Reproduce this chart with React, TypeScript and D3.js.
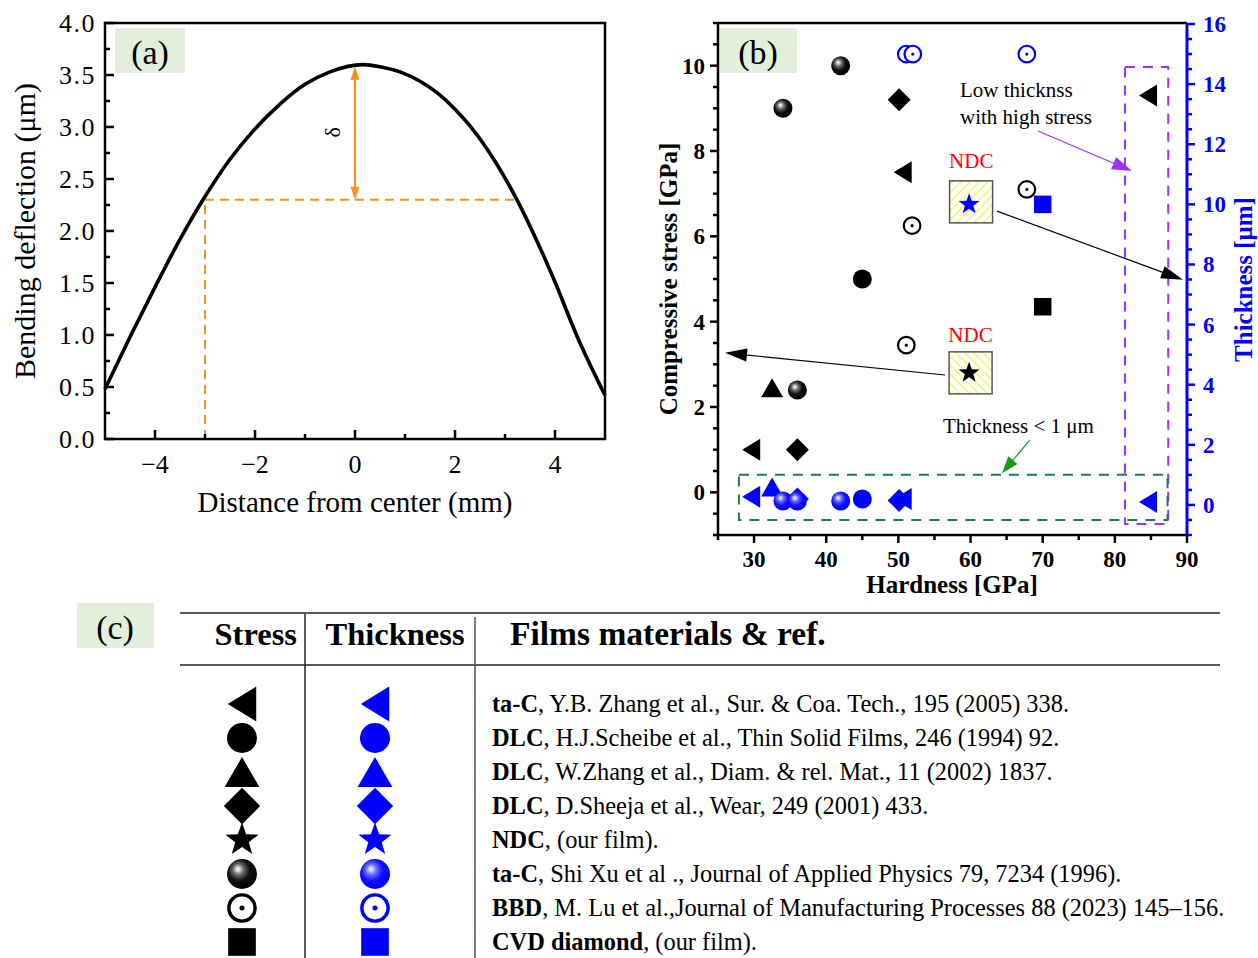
import React from 'react';
import * as d3 from 'd3';

const SERIF = "'Liberation Serif', 'Times New Roman', Times, serif";
const ORANGE = '#f7901e';
const BLUE = '#0000ff';
const LABEL_BG = '#e2efda';

type Pt = [number, number];

// ---------- (a) bending profile ----------
const profileDistance = [-5.0, -4.5, -4.0, -3.5, -3.04, -2.5, -2.04, -1.5, -1.0, -0.5, 0.16, 0.5, 0.9, 1.3, 1.64, 2.0, 2.3, 2.8, 3.24, 3.7, 4.0, 4.43, 5.0];
const profileDeflection = [0.48, 0.98, 1.46, 1.92, 2.3, 2.69, 2.96, 3.22, 3.41, 3.53, 3.6, 3.58, 3.53, 3.44, 3.33, 3.17, 3.01, 2.67, 2.3, 1.84, 1.51, 1.0, 0.42];
const distanceTicks = [-4, -2, 0, 2, 4];
const distanceMinor = [-3, -1, 1, 3];
const deflectionTicks = [0, 0.5, 1, 1.5, 2, 2.5, 3, 3.5, 4];
const chordLeft = -3.0;
const chordRight = 3.28;
const chordLevel = 2.3;
const apexLevel = 3.58;

// ---------- (b) stress / thickness vs hardness ----------
const hardnessTicks = [30, 40, 50, 60, 70, 80, 90];
const stressTicks = [0, 2, 4, 6, 8, 10];
const thicknessTicks = [0, 2, 4, 6, 8, 10, 12, 14, 16];

const tacZhangStress: Pt[] = [[29.6, 1.0], [50.6, 7.5], [84.6, 9.3]];
const tacZhangThickness: Pt[] = [[29.6, 0.27], [50.6, 0.2], [84.6, 0.1]];
const dlcScheibeStress: Pt[] = [[45.0, 5.0]];
const dlcScheibeThickness: Pt[] = [[45.0, 0.2]];
const dlcWZhangStress: Pt[] = [[32.5, 2.45]];
const dlcWZhangThickness: Pt[] = [[32.5, 0.6]];
const dlcSheejaStress: Pt[] = [[36.0, 1.0], [50.1, 9.2]];
const dlcSheejaThickness: Pt[] = [[36.0, 0.2], [50.1, 0.15]];
const ndcStress: Pt[] = [[59.8, 2.8]];
const ndcThickness: Pt[] = [[59.8, 10.0]];
const tacXuStress: Pt[] = [[34.0, 9.0], [42.0, 10.0], [36.0, 2.4]];
const tacXuThickness: Pt[] = [[34.0, 0.13], [42.0, 0.13], [36.0, 0.13]];
const bbdStress: Pt[] = [[51.9, 6.25], [51.1, 3.45], [67.8, 7.1]];
const bbdThickness: Pt[] = [[51.1, 15.0], [52.0, 15.0], [67.8, 15.0]];
const cvdStress: Pt[] = [[70.0, 4.35]];
const cvdThickness: Pt[] = [[70.0, 10.0]];

// ---------- (c) legend table ----------
const filmShapes = ['triLeft', 'circle', 'triUp', 'diamond', 'star', 'sphere', 'bullseye', 'square'];
const filmNames = ['ta-C', 'DLC', 'DLC', 'DLC', 'NDC', 'ta-C', 'BBD', 'CVD diamond'];
const filmRefs = [
  ', Y.B. Zhang et al., Sur. & Coa. Tech., 195 (2005) 338.',
  ', H.J.Scheibe et al., Thin Solid Films, 246 (1994) 92.',
  ', W.Zhang et al., Diam. & rel. Mat., 11 (2002) 1837.',
  ', D.Sheeja et al., Wear, 249 (2001) 433.',
  ', (our film).',
  ', Shi Xu et al ., Journal of Applied Physics 79, 7234 (1996).',
  ', M. Lu et al.,Journal of Manufacturing Processes 88 (2023) 145\u2013156.',
  ', (our film).',
];

// scales
const xA = d3.scaleLinear().domain([-5, 5]).range([105, 605]);
const yA = d3.scaleLinear().domain([0, 4]).range([439, 23]);
const xB = d3.scaleLinear().domain([25, 90]).range([718, 1187]);
const yS = d3.scaleLinear().domain([-1, 11]).range([535, 23]);
const yT = d3.scaleLinear().domain([-1, 16]).range([535, 24]);

function starPath(ro: number, ri: number) {
  const pts: string[] = [];
  for (let i = 0; i < 10; i++) {
    const r = i % 2 === 0 ? ro : ri;
    const a = -Math.PI / 2 + (i * Math.PI) / 5;
    pts.push(`${(r * Math.cos(a)).toFixed(2)},${(r * Math.sin(a)).toFixed(2)}`);
  }
  return 'M' + pts.join('L') + 'Z';
}

function Marker({ shape, x, y, color, k = 1 }: { shape: string; x: number; y: number; color: string; k?: number }) {
  const t = `translate(${x},${y}) scale(${k})`;
  const grad = color === BLUE ? 'url(#sphereBlue)' : 'url(#sphereBlack)';
  switch (shape) {
    case 'triLeft':
      return <path transform={t} d="M-9,0L9,-11L9,11Z" fill={color} />;
    case 'triUp':
      return <path transform={t} d="M0,-9.5L11,9.5L-11,9.5Z" fill={color} />;
    case 'circle':
      return <circle transform={t} r={9.5} fill={color} />;
    case 'diamond':
      return <path transform={t} d="M0,-11.5L11.5,0L0,11.5L-11.5,0Z" fill={color} />;
    case 'star':
      return <path transform={t} d={starPath(11, 4.5)} fill={color} />;
    case 'sphere':
      return <circle transform={t} r={9.5} fill={grad} />;
    case 'bullseye':
      return (
        <g transform={t}>
          <circle r={8.3} fill="#fff" stroke={color} strokeWidth={2.2} />
          <circle r={1.6} fill={color} />
        </g>
      );
    case 'square':
      return <rect transform={t} x={-8.75} y={-8.75} width={17.5} height={17.5} fill={color} />;
    default:
      return null;
  }
}

function arrowHead(x1: number, y1: number, x2: number, y2: number, len: number, half: number) {
  const a = Math.atan2(y2 - y1, x2 - x1);
  const bx = x2 - len * Math.cos(a);
  const by = y2 - len * Math.sin(a);
  const px = -Math.sin(a) * half;
  const py = Math.cos(a) * half;
  return `${x2},${y2} ${bx + px},${by + py} ${bx - px},${by - py}`;
}

function Arrow({ x1, y1, x2, y2, color, len = 20, half = 6, w = 1.2 }: any) {
  const a = Math.atan2(y2 - y1, x2 - x1);
  return (
    <g>
      <line x1={x1} y1={y1} x2={x2 - (len - 2) * Math.cos(a)} y2={y2 - (len - 2) * Math.sin(a)} stroke={color} strokeWidth={w} />
      <polygon points={arrowHead(x1, y1, x2, y2, len, half)} fill={color} />
    </g>
  );
}

export default function App() {
  const profile = d3
    .line<number>()
    .x((_, i) => xA(profileDistance[i]))
    .y((d) => yA(d))
    .curve(d3.curveMonotoneX)(profileDeflection) as string;

  const deflMinor = d3.range(0.25, 4, 0.5);
  const stressMinor = d3.range(-1, 11.01, 0.5).filter((v) => Math.abs(v % 2) > 1e-6);
  const thickMinor = d3.range(-1, 16.01, 0.5).filter((v) => Math.abs(v % 2) > 1e-6);
  const hardMinor = [25, 35, 45, 55, 65, 75, 85];

  const stressSets: [string, Pt[]][] = [
    ['triLeft', tacZhangStress],
    ['circle', dlcScheibeStress],
    ['triUp', dlcWZhangStress],
    ['diamond', dlcSheejaStress],
    ['sphere', tacXuStress],
    ['bullseye', bbdStress],
    ['square', cvdStress],
  ];
  const thickSets: [string, Pt[]][] = [
    ['diamond', dlcSheejaThickness],
    ['triLeft', tacZhangThickness],
    ['circle', dlcScheibeThickness],
    ['triUp', dlcWZhangThickness],
    ['sphere', tacXuThickness],
    ['bullseye', bbdThickness],
    ['square', cvdThickness],
  ];

  const ndcBox = (cx: number, cy: number, hatch: string) => (
    <rect x={cx - 21.5} y={cy - 21} width={43} height={42} fill={`url(#${hatch})`} stroke="#555" strokeWidth={1.5} />
  );

  const rowY = (i: number) => 704 + i * 34;

  return (
    <svg width={1258} height={958} style={{ position: 'absolute', left: 0, top: 0, background: '#fff' }} fontFamily={SERIF}>
      <defs>
        <radialGradient id="sphereBlack" cx="0.42" cy="0.4" r="0.6" fx="0.36" fy="0.33">
          <stop offset="0" stopColor="#ffffff" />
          <stop offset="0.12" stopColor="#d0d0d0" />
          <stop offset="0.3" stopColor="#6a6a6a" />
          <stop offset="0.6" stopColor="#101010" />
          <stop offset="1" stopColor="#000" />
        </radialGradient>
        <radialGradient id="sphereBlue" cx="0.42" cy="0.4" r="0.6" fx="0.36" fy="0.33">
          <stop offset="0" stopColor="#ffffff" />
          <stop offset="0.12" stopColor="#c8c8ff" />
          <stop offset="0.3" stopColor="#6a6aff" />
          <stop offset="0.6" stopColor="#1010ff" />
          <stop offset="1" stopColor={BLUE} />
        </radialGradient>
        <pattern id="hatchFwd" patternUnits="userSpaceOnUse" width={9} height={9}>
          <rect width={9} height={9} fill="#fff" />
          <path d="M-2,2L2,-2M0,9L9,0M7,11L11,7" stroke="#f4f46a" strokeWidth={1.5} />
        </pattern>
        <pattern id="hatchBack" patternUnits="userSpaceOnUse" width={9} height={9}>
          <rect width={9} height={9} fill="#fff" />
          <path d="M-2,7L2,11M0,0L9,9M7,-2L11,2" stroke="#f4f46a" strokeWidth={1.5} />
        </pattern>
      </defs>

      {/* ================= (a) ================= */}
      <g>
        <rect x={115} y={28} width={70} height={45} fill={LABEL_BG} />
        <text x={150} y={64} fontSize={34} textAnchor="middle">(a)</text>

        {/* orange chord and deflection arrow */}
        <line x1={xA(chordLeft)} y1={yA(0)} x2={xA(chordLeft)} y2={yA(chordLevel)} stroke={ORANGE} strokeWidth={2} strokeDasharray="9,6" />
        <line x1={xA(chordLeft)} y1={yA(chordLevel)} x2={xA(chordRight)} y2={yA(chordLevel)} stroke={ORANGE} strokeWidth={2} strokeDasharray="9,6" />
        <line x1={xA(0)} y1={yA(chordLevel) - 12} x2={xA(0)} y2={yA(apexLevel) + 12} stroke={ORANGE} strokeWidth={2} />
        <polygon points={arrowHead(xA(0), yA(apexLevel) + 20, xA(0), yA(chordLevel), 13, 4.5)} fill={ORANGE} />
        <polygon points={arrowHead(xA(0), yA(chordLevel) - 20, xA(0), yA(apexLevel), 13, 4.5)} fill={ORANGE} />
        <text transform={`translate(${xA(-0.3)},${yA(2.95)}) rotate(-90)`} fontSize={22} textAnchor="middle">δ</text>

        <path d={profile} fill="none" stroke="#000" strokeWidth={3.6} strokeLinejoin="round" />

        {/* frame */}
        <rect x={xA(-5)} y={yA(4)} width={xA(5) - xA(-5)} height={yA(0) - yA(4)} fill="none" stroke="#000" strokeWidth={2.5} />

        {distanceTicks.map((t) => (
          <g key={'xa' + t}>
            <line x1={xA(t)} x2={xA(t)} y1={yA(0)} y2={yA(0) - 9} stroke="#000" strokeWidth={2.5} />
            <text x={xA(t)} y={473} fontSize={26} textAnchor="middle">{t < 0 ? '\u2212' + Math.abs(t) : String(t)}</text>
          </g>
        ))}
        {distanceMinor.map((t) => (
          <line key={'xam' + t} x1={xA(t)} x2={xA(t)} y1={yA(0)} y2={yA(0) - 5} stroke="#000" strokeWidth={2.5} />
        ))}
        {deflectionTicks.map((t) => (
          <g key={'ya' + t}>
            <line x1={xA(-5)} x2={xA(-5) + 9} y1={yA(t)} y2={yA(t)} stroke="#000" strokeWidth={2.5} />
            <text x={96} y={yA(t) + 9} fontSize={26} textAnchor="end" letterSpacing={1.5}>{t.toFixed(1)}</text>
          </g>
        ))}
        {deflMinor.map((t) => (
          <line key={'yam' + t} x1={xA(-5)} x2={xA(-5) + 5} y1={yA(t)} y2={yA(t)} stroke="#000" strokeWidth={2.5} />
        ))}
        <text x={xA(0)} y={512} fontSize={29} textAnchor="middle">Distance from center (mm)</text>
        <text transform={`translate(35,${yA(2)}) rotate(-90)`} fontSize={30} textAnchor="middle">Bending deflection (μm)</text>
      </g>

      {/* ================= (b) ================= */}
      <g>
        <rect x={720} y={28} width={77} height={45} fill={LABEL_BG} />
        <text x={758} y={64} fontSize={34} textAnchor="middle">(b)</text>

        {/* highlighted regions */}
        <rect x={xB(81.4)} y={yS(9.97)} width={xB(87.4) - xB(81.4)} height={yS(-0.74) - yS(9.97)} fill="none" stroke="#9b30ff" strokeWidth={2} strokeDasharray="10,8" />
        <rect x={xB(27.9)} y={yS(0.41)} width={xB(87.3) - xB(27.9)} height={yS(-0.65) - yS(0.41)} fill="none" stroke="#1e7a55" strokeWidth={2} strokeDasharray="10,8" />

        {/* NDC boxes */}
        {ndcBox(xB(ndcThickness[0][0]) + 2, yT(ndcThickness[0][1]) - 2.5, 'hatchFwd')}
        {ndcBox(xB(ndcStress[0][0]) + 1.5, yS(ndcStress[0][1]), 'hatchBack')}
        <text x={xB(60.1)} y={yS(7.6)} fontSize={21} fill="#ff0000" textAnchor="middle">NDC</text>
        <text x={xB(60.0)} y={yS(3.52)} fontSize={21} fill="#ff0000" textAnchor="middle">NDC</text>

        {stressSets.map(([shape, pts]) =>
          pts.map((p, i) => <Marker key={'s' + shape + i} shape={shape} x={xB(p[0])} y={yS(p[1])} color="#000" />)
        )}
        <Marker shape="star" x={xB(ndcStress[0][0])} y={yS(ndcStress[0][1])} color="#000" />
        {thickSets.map(([shape, pts]) =>
          pts.map((p, i) => <Marker key={'t' + shape + i} shape={shape} x={xB(p[0])} y={yT(p[1])} color={BLUE} />)
        )}
        <Marker shape="star" x={xB(ndcThickness[0][0])} y={yT(ndcThickness[0][1])} color={BLUE} />

        {/* annotation arrows */}
        <Arrow x1={xB(63.67)} y1={yS(6.59)} x2={xB(89.45)} y2={yS(4.98)} color="#000" len={22} half={6.5} />
        <Arrow x1={xB(56.46)} y1={yS(2.75)} x2={xB(25.97)} y2={yS(3.27)} color="#000" len={22} half={6.5} />
        <Arrow x1={xB(69.35)} y1={yS(8.47)} x2={xB(82.38)} y2={yS(7.53)} color="#9b30ff" len={20} half={6.5} />
        <Arrow x1={xB(68.24)} y1={yS(1.23)} x2={xB(64.36)} y2={yS(0.45)} color="#1a9a1a" len={17} half={6} />

        <text x={960} y={97} fontSize={21}>Low thicknss</text>
        <text x={960} y={124} fontSize={21}>with high stress</text>
        <text x={943} y={433} fontSize={21}>Thickness &lt; 1 μm</text>

        {/* axes frame */}
        <line x1={xB(25)} x2={xB(90)} y1={yS(11)} y2={yS(11)} stroke="#000" strokeWidth={2.5} />
        <line x1={xB(25)} x2={xB(90)} y1={yS(-1)} y2={yS(-1)} stroke="#000" strokeWidth={2.5} />
        <line x1={xB(25)} x2={xB(25)} y1={yS(11)} y2={yS(-1)} stroke="#000" strokeWidth={2.5} />
        <line x1={xB(90)} x2={xB(90)} y1={yS(11)} y2={yS(-1) + 1} stroke={BLUE} strokeWidth={3} />

        {hardnessTicks.map((t) => (
          <g key={'xb' + t}>
            <line x1={xB(t)} x2={xB(t)} y1={yS(-1)} y2={yS(-1) + 8} stroke="#000" strokeWidth={2.5} />
            <text x={xB(t)} y={567} fontSize={23} fontWeight="bold" textAnchor="middle">{t}</text>
          </g>
        ))}
        {hardMinor.map((t) => (
          <line key={'xbm' + t} x1={xB(t)} x2={xB(t)} y1={yS(-1)} y2={yS(-1) + 5} stroke="#000" strokeWidth={2.5} />
        ))}
        {stressTicks.map((t) => (
          <g key={'yl' + t}>
            <line x1={xB(25)} x2={xB(25) - 8} y1={yS(t)} y2={yS(t)} stroke="#000" strokeWidth={2.5} />
            <text x={705} y={yS(t) + 8} fontSize={23} fontWeight="bold" textAnchor="end">{t}</text>
          </g>
        ))}
        {stressMinor.map((t) => (
          <line key={'ylm' + t} x1={xB(25)} x2={xB(25) - 5} y1={yS(t)} y2={yS(t)} stroke="#000" strokeWidth={2.5} />
        ))}
        {thicknessTicks.map((t) => (
          <g key={'yr' + t}>
            <line x1={xB(90)} x2={xB(90) + 8} y1={yT(t)} y2={yT(t)} stroke={BLUE} strokeWidth={2.5} />
            <text x={1203} y={yT(t) + 8} fontSize={23} fontWeight="bold" fill={BLUE}>{t}</text>
          </g>
        ))}
        {thickMinor.map((t) => (
          <line key={'yrm' + t} x1={xB(90)} x2={xB(90) + 5} y1={yT(t)} y2={yT(t)} stroke={BLUE} strokeWidth={2.5} />
        ))}
        <text x={952} y={593} fontSize={25} fontWeight="bold" textAnchor="middle">Hardness [GPa]</text>
        <text transform={`translate(677,${yS(5)}) rotate(-90)`} fontSize={25} fontWeight="bold" textAnchor="middle">Compressive stress [GPa]</text>
        <text transform={`translate(1252,${yT(7.5)}) rotate(-90)`} fontSize={25} fontWeight="bold" fill={BLUE} textAnchor="middle">Thickness [μm]</text>
      </g>

      {/* ================= (c) ================= */}
      <g>
        <rect x={77} y={603} width={77} height={45} fill={LABEL_BG} />
        <text x={115} y={639} fontSize={34} textAnchor="middle">(c)</text>

        <line x1={180} x2={1220} y1={613} y2={613} stroke="#222" strokeWidth={1.5} />
        <line x1={180} x2={1220} y1={665} y2={665} stroke="#222" strokeWidth={1.5} />
        <line x1={305} x2={305} y1={614} y2={958} stroke="#222" strokeWidth={1.5} />
        <line x1={475} x2={475} y1={617} y2={958} stroke="#555" strokeWidth={1.5} />

        <text x={297} y={645} fontSize={32.5} fontWeight="bold" textAnchor="end">Stress</text>
        <text x={395} y={645} fontSize={32.5} fontWeight="bold" textAnchor="middle">Thickness</text>
        <text x={510} y={645} fontSize={33.5} fontWeight="bold">Films materials &amp; ref.</text>

        {filmShapes.map((shape, i) => (
          <g key={'row' + i}>
            <Marker shape={shape} x={242} y={rowY(i)} color="#000" k={1.58} />
            <Marker shape={shape} x={375} y={rowY(i)} color={BLUE} k={1.58} />
            <text x={492} y={rowY(i) + 8} fontSize={24.4}>
              <tspan fontWeight="bold">{filmNames[i]}</tspan>
              <tspan>{filmRefs[i]}</tspan>
            </text>
          </g>
        ))}
      </g>
    </svg>
  );
}
